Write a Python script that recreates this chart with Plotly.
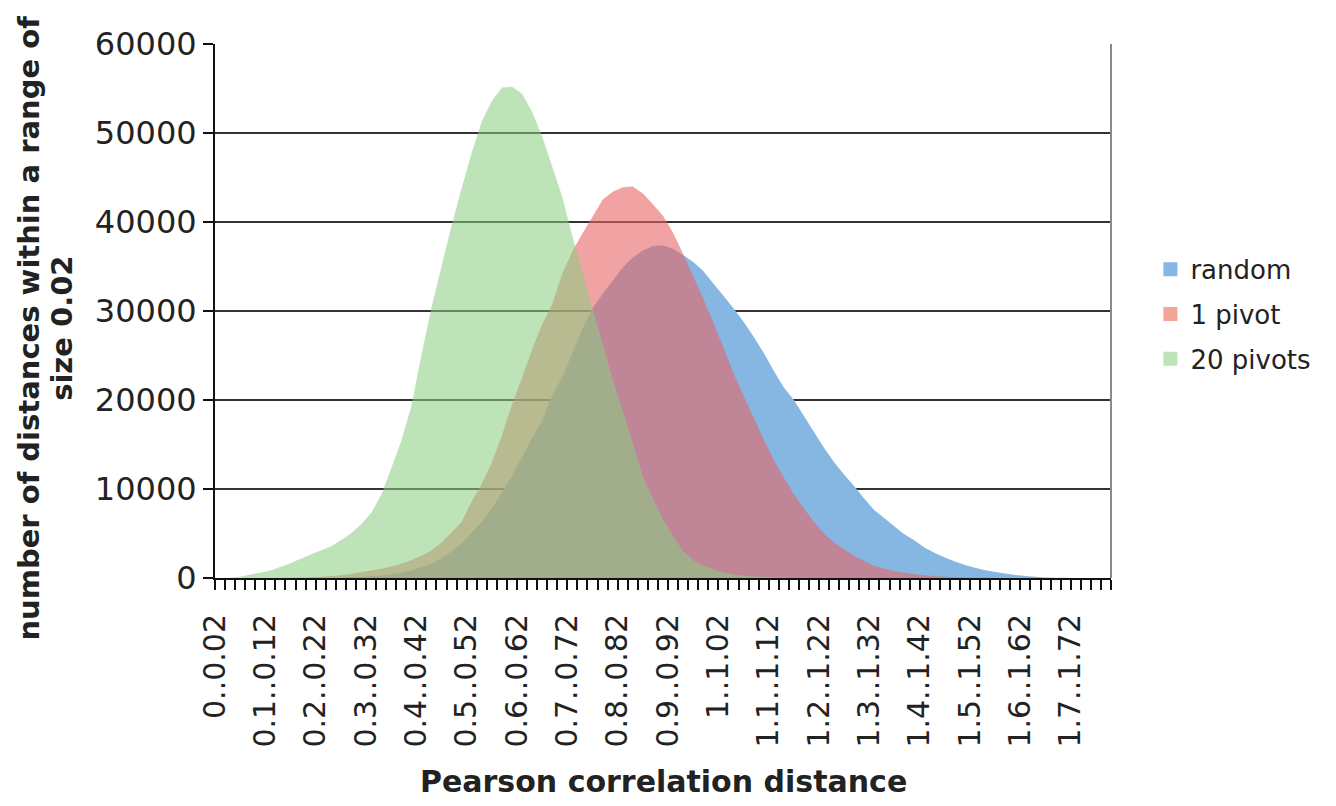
import plotly.graph_objects as go

# ---------------- data ----------------
categories = [
    "0..0.02", "0.02..0.04", "0.04..0.06", "0.06..0.08", "0.08..0.1",
    "0.1..0.12", "0.12..0.14", "0.14..0.16", "0.16..0.18", "0.18..0.2",
    "0.2..0.22", "0.22..0.24", "0.24..0.26", "0.26..0.28", "0.28..0.3",
    "0.3..0.32", "0.32..0.34", "0.34..0.36", "0.36..0.38", "0.38..0.4",
    "0.4..0.42", "0.42..0.44", "0.44..0.46", "0.46..0.48", "0.48..0.5",
    "0.5..0.52", "0.52..0.54", "0.54..0.56", "0.56..0.58", "0.58..0.6",
    "0.6..0.62", "0.62..0.64", "0.64..0.66", "0.66..0.68", "0.68..0.7",
    "0.7..0.72", "0.72..0.74", "0.74..0.76", "0.76..0.78", "0.78..0.8",
    "0.8..0.82", "0.82..0.84", "0.84..0.86", "0.86..0.88", "0.88..0.9",
    "0.9..0.92", "0.92..0.94", "0.94..0.96", "0.96..0.98", "0.98..1",
    "1..1.02", "1.02..1.04", "1.04..1.06", "1.06..1.08", "1.08..1.1",
    "1.1..1.12", "1.12..1.14", "1.14..1.16", "1.16..1.18", "1.18..1.2",
    "1.2..1.22", "1.22..1.24", "1.24..1.26", "1.26..1.28", "1.28..1.3",
    "1.3..1.32", "1.32..1.34", "1.34..1.36", "1.36..1.38", "1.38..1.4",
    "1.4..1.42", "1.42..1.44", "1.44..1.46", "1.46..1.48", "1.48..1.5",
    "1.5..1.52", "1.52..1.54", "1.54..1.56", "1.56..1.58", "1.58..1.6",
    "1.6..1.62", "1.62..1.64", "1.64..1.66", "1.66..1.68", "1.68..1.7",
    "1.7..1.72", "1.72..1.74", "1.74..1.76", "1.76..1.78",
]

labelled_categories = [
    "0..0.02", "0.1..0.12", "0.2..0.22", "0.3..0.32", "0.4..0.42",
    "0.5..0.52", "0.6..0.62", "0.7..0.72", "0.8..0.82", "0.9..0.92",
    "1..1.02", "1.1..1.12", "1.2..1.22", "1.3..1.32", "1.4..1.42",
    "1.5..1.52", "1.6..1.62", "1.7..1.72",
]

random_counts = [
    0, 0, 0, 0, 0, 0, 0, 0, 10, 20,
    30, 45, 70, 100, 150, 200, 290, 420, 600, 850,
    1200, 1600, 2200, 3000, 3900, 5100, 6300, 7800, 9600, 11500,
    13600, 15700, 17700, 20500, 22600, 25300, 28000, 30300, 31900, 33400,
    34900, 36000, 36800, 37300, 37400, 37000, 36300, 35500, 34500, 33100,
    31700, 30300, 28800, 27100, 25300, 23300, 21400, 20000, 18200, 16400,
    14600, 13000, 11600, 10300, 8900, 7600, 6700, 5800, 4900, 4200,
    3400, 2800, 2300, 1850, 1450, 1150, 880, 680, 500, 350,
    230, 130, 70, 40, 20, 10, 0, 0, 0,
]

one_pivot_counts = [
    0, 0, 0, 0, 0, 10, 20, 30, 50, 80,
    130, 220, 320, 450, 650, 850, 1050, 1300, 1600, 2000,
    2500, 3100, 4000, 5100, 6300, 8600, 10600, 13000, 16000, 19500,
    22500, 25700, 28500, 30800, 34200, 36700, 38700, 40600, 42500, 43400,
    43900, 44000, 43200, 42000, 40700, 38800, 36400, 33900, 31400, 28700,
    25900, 23000, 20500, 18000, 15600, 13300, 11300, 9400, 7800, 6300,
    5000, 4000, 3200, 2500, 1900, 1350, 1050, 800, 600, 430,
    310, 220, 130, 80, 50, 30, 15, 5, 0, 0,
    0, 0, 0, 0, 0, 0, 0, 0, 0,
]

twenty_pivots_counts = [
    0, 20, 130, 400, 600, 850, 1250, 1650, 2150, 2650,
    3100, 3550, 4250, 5000, 6000, 7300, 9300, 12300, 15400, 19300,
    25000, 30400, 35000, 39600, 43800, 47800, 51300, 53600, 55100, 55200,
    54400, 52400, 49600, 46200, 42800, 38400, 34300, 30300, 26300, 22300,
    18800, 15200, 11400, 8900, 6600, 4700, 3000, 2000, 1400, 950,
    620, 400, 250, 180, 130, 90, 60, 40, 25, 15,
    10, 5, 0, 0, 0, 0, 0, 0, 0, 0,
    0, 0, 0, 0, 0, 0, 0, 0, 0, 0,
    0, 0, 0, 0, 0, 0, 0, 0, 0,
]

series_names = ["random", "1 pivot", "20 pivots"]
y_ticks = [0, 10000, 20000, 30000, 40000, 50000, 60000]

# ---------------- styling ----------------
FONT = "DejaVu Sans"
fill_colors = ["rgb(134,182,226)", "rgba(231,102,102,0.6)", "rgba(139,205,130,0.56)"]
legend_colors = ["rgb(134,182,226)", "rgb(243,166,152)", "rgb(190,227,185)"]

idx = list(range(len(categories)))
fig = go.Figure()

for name, vals, col in zip(series_names,
                           [random_counts, one_pivot_counts, twenty_pivots_counts],
                           fill_colors):
    fig.add_trace(go.Scatter(
        x=idx, y=vals, mode="none", fill="tozeroy", fillcolor=col,
        name=name, showlegend=False, hoverinfo="x+y",
    ))

for name, col in zip(series_names, legend_colors):
    fig.add_trace(go.Scatter(
        x=[None], y=[None], mode="markers", name=name, legendgroup=name,
        marker=dict(symbol="square", size=14, color=col),
    ))

# rotated labels sit at the left boundary of their category, as in the reference
tickpos = [categories.index(c) - 0.5 for c in labelled_categories]

fig.update_layout(
    width=1320, height=790,
    margin=dict(l=207, r=217, t=36, b=220),
    paper_bgcolor="white", plot_bgcolor="white",
    font=dict(family=FONT, size=28, color="#222"),
    showlegend=True,
    legend=dict(
        x=1.044, y=0.622, xanchor="left", yanchor="top",
        font=dict(family=FONT, size=26, color="#222"),
        bgcolor="rgba(0,0,0,0)", traceorder="grouped", tracegroupgap=8,
        itemwidth=30,
    ),
    xaxis=dict(
        range=[-0.5, len(categories) - 0.5],
        tickmode="array", tickvals=tickpos, ticktext=labelled_categories,
        tickangle=-90, ticks="outside", ticklen=10, tickwidth=2, tickcolor="#111",
        ticklabelstandoff=12,
        showgrid=False, zeroline=False,
        showline=True, linecolor="#111", linewidth=2,
        tickfont=dict(family=FONT, size=30, color="#222"),
        minor=dict(tick0=-0.5, dtick=1, ticks="outside", ticklen=10,
                   tickwidth=2, tickcolor="#111", showgrid=False),
    ),
    yaxis=dict(
        range=[0, 60000], tickmode="array", tickvals=y_ticks,
        ticktext=[str(v) for v in y_ticks],
        ticks="outside", ticklen=10, tickwidth=2, tickcolor="#111",
        showgrid=True, gridcolor="#333", gridwidth=2,
        zeroline=False, showline=True, linecolor="#111", linewidth=2,
        tickfont=dict(family=FONT, size=32, color="#222"),
    ),
    shapes=[dict(type="line", xref="paper", yref="paper", x0=1, x1=1, y0=0, y1=1,
                 line=dict(color="#8a8a8a", width=2))],
    annotations=[
        dict(text="<b>number of distances within a range of</b>",
             xref="paper", yref="paper", x=-0.207, y=0.468, textangle=-90,
             xanchor="center", yanchor="middle", showarrow=False,
             font=dict(family=FONT, size=29, color="#222")),
        dict(text="<b>size 0.02</b>",
             xref="paper", yref="paper", x=-0.171, y=0.468, textangle=-90,
             xanchor="center", yanchor="middle", showarrow=False,
             font=dict(family=FONT, size=29, color="#222")),
        dict(text="<b>Pearson correlation distance</b>",
             xref="paper", yref="paper", x=0.5, y=-0.381,
             xanchor="center", yanchor="middle", showarrow=False,
             font=dict(family=FONT, size=30, color="#222")),
    ],
)

fig.write_html("out.html")
